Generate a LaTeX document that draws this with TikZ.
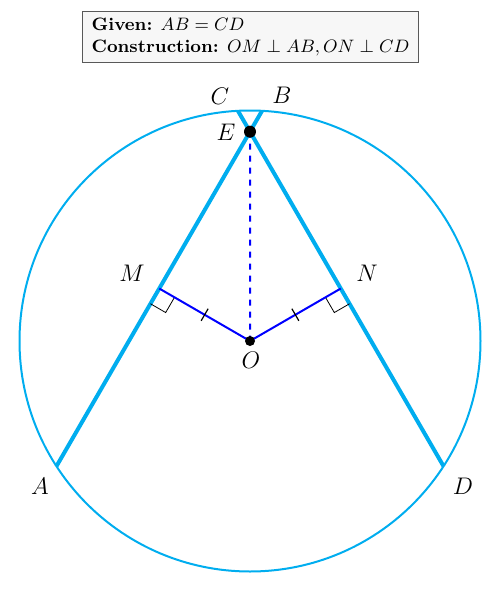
\documentclass[tikz,border=0pt]{standalone}
\usetikzlibrary{calc}
\definecolor{circcol}{RGB}{0,173,239}
\begin{document}
\begin{tikzpicture}[x=0.5pt,y=-0.5pt,
  circline/.style={draw=circcol,line width=1pt},
  chord/.style={draw=circcol,line width=2pt},
  perp/.style={draw=blue,line width=1pt},
  lab/.style={inner sep=0pt,font=\fontsize{11.5}{13}\selectfont},
  dotpt/.style={circle,fill=black,inner sep=0pt,minimum size=#1},
  infobox/.style={draw=black!65,fill=black!3,line width=0.5pt,align=left,font=\fontsize{9}{11}\selectfont,inner xsep=4.5pt,inner ysep=3pt}]
\useasboundingbox (0,0) rectangle (502,600);
\coordinate (O) at (250,341);
\coordinate (A) at ($(O)+(147.1:230.5)$);
\coordinate (B) at ($(O)+(-87:230.5)$);
\coordinate (C) at ($(O)+(-93:230.5)$);
\coordinate (D) at ($(O)+(32.9:230.5)$);
\coordinate (M) at ($(A)!0.5!(B)$);
\coordinate (N) at ($(C)!0.5!(D)$);
\coordinate (E) at (intersection of A--B and C--D);
\draw[circline] (O) circle [radius=115.25pt];
\draw[chord] (A) -- (B);
\draw[chord] (C) -- (D);
\coordinate (m1) at ($(M)!8.8pt!(A)$);
\coordinate (m2) at ($(M)!8.8pt!(O)$);
\draw[black,line width=0.4pt] (m1) -- ($(m1)+(m2)-(M)$) -- (m2);
\coordinate (n1) at ($(N)!8.8pt!(D)$);
\coordinate (n2) at ($(N)!8.8pt!(O)$);
\draw[black,line width=0.4pt] (n1) -- ($(n1)+(n2)-(N)$) -- (n2);
\draw[perp] (O) -- (M);
\draw[perp] (O) -- (N);
\draw[perp,dashed] (E) -- (O);
\draw[black,line width=0.6pt] ($(O)!0.5!(M)!3.5pt!90:(M)$) -- ($(O)!0.5!(M)!3.5pt!-90:(M)$);
\draw[black,line width=0.6pt] ($(O)!0.5!(N)!3.5pt!90:(N)$) -- ($(O)!0.5!(N)!3.5pt!-90:(N)$);
\node[dotpt=6pt] (Edot) at (E) {};
\node[dotpt=5pt] (Odot) at (O) {};
\node[lab] (lC) at (220,96) {$C$};
\node[lab] (lB) at (282,95) {$B$};
\node[lab] (lE) at (226,132) {$E$};
\node[lab] (lM) at (132,273) {$M$};
\node[lab] (lN) at (367,273) {$N$};
\node[lab] (lO) at (251,360) {$O$};
\node[lab] (lA) at (40,486) {$A$};
\node[lab] (lD) at (463,486) {$D$};
\node[infobox] (info) at (250.5,37) {\textbf{Given:} $AB = CD$\\\textbf{Construction:} $OM \perp AB, ON \perp CD$};
\end{tikzpicture}
\end{document}
